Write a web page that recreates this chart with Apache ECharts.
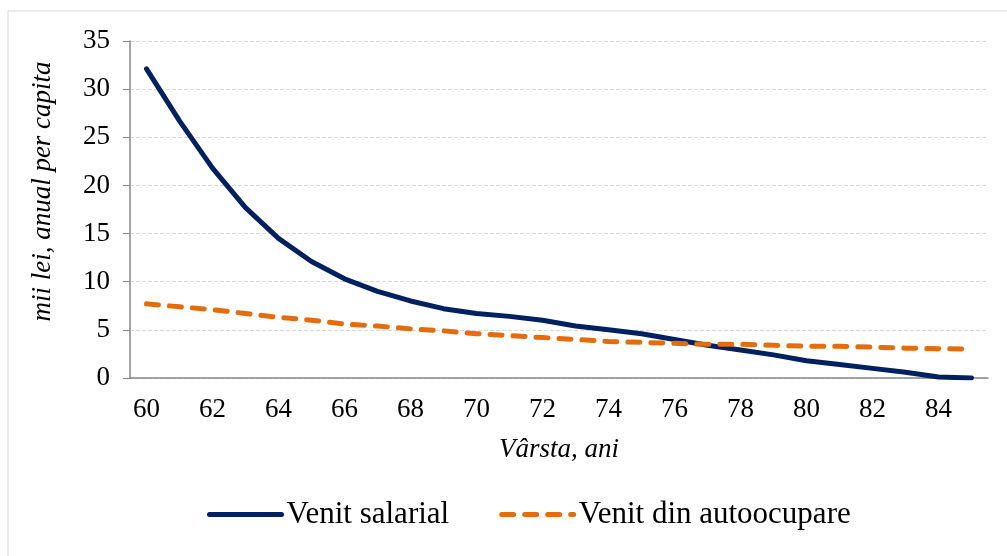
<!DOCTYPE html>
<html>
<head>
<meta charset="utf-8">
<script src="https://cdn.jsdelivr.net/npm/echarts@6/dist/echarts.min.js"></script>
<style>
  html, body { margin: 0; padding: 0; background: #fff; }
  #chart { width: 1007px; height: 556px; }
</style>
</head>
<body>
<div id="chart"></div>
<script>
// varsta, ani
const ages = ['60', '61', '62', '63', '64', '65', '66', '67', '68', '69', '70', '71', '72',
  '73', '74', '75', '76', '77', '78', '79', '80', '81', '82', '83', '84', '85'];
// mii lei, anual per capita
const venitSalarial = [32.1, 26.7, 21.8, 17.7, 14.5, 12.1, 10.3, 9.0, 8.0, 7.2, 6.7, 6.4, 6.0,
  5.4, 5.0, 4.6, 4.0, 3.4, 2.9, 2.4, 1.8, 1.4, 1.0, 0.6, 0.1, 0.0];
const venitAutoocupare = [7.7, 7.4, 7.1, 6.7, 6.3, 6.0, 5.6, 5.4, 5.1, 4.9, 4.6, 4.4, 4.2,
  4.0, 3.8, 3.7, 3.6, 3.5, 3.5, 3.4, 3.3, 3.3, 3.2, 3.1, 3.05, 3.0];
const yTicks = { min: 0, max: 35, step: 5 };

const font = '"Liberation Serif", "Times New Roman", serif';
const chart = echarts.init(document.getElementById('chart'));

chart.setOption({
  animation: false,
  textStyle: { fontFamily: font, color: '#000' },
  graphic: [{
    type: 'rect',
    shape: { x: 8, y: 11, width: 1100, height: 700 },
    style: { fill: 'none', stroke: '#d9d9d9', lineWidth: 1 }
  }],
  grid: { left: 130, right: 19, top: 41, bottom: 178 },
  legend: {
    left: 202,
    top: 494,
    itemWidth: 72,
    itemHeight: 10,
    itemGap: 50,
    itemStyle: { opacity: 0 },
    lineStyle: { width: 5, cap: 'round' },
    textStyle: { fontFamily: font, fontSize: 31, color: '#000' },
    data: ['Venit salarial', 'Venit din autoocupare']
  },
  xAxis: {
    type: 'category',
    data: ages,
    boundaryGap: true,
    name: 'Vârsta, ani',
    nameLocation: 'middle',
    nameGap: 58,
    nameTextStyle: { fontFamily: font, fontSize: 27, fontStyle: 'italic', color: '#000' },
    axisLine: { lineStyle: { color: '#868686', width: 1.5 } },
    axisTick: { interval: 1, length: 7, lineStyle: { color: '#868686' } },
    axisLabel: { interval: 1, margin: 18, fontSize: 27, color: '#000', fontFamily: font },
    splitLine: { show: false }
  },
  yAxis: {
    type: 'value',
    min: yTicks.min,
    max: yTicks.max,
    interval: yTicks.step,
    name: 'mii lei, anual per capita',
    nameLocation: 'middle',
    nameGap: 74,
    nameRotate: 90,
    nameTextStyle: { fontFamily: font, fontSize: 27, fontStyle: 'italic', color: '#000', padding: [0, 0, 0, 36] },
    axisLine: { show: true, lineStyle: { color: '#868686', width: 1.5 } },
    axisTick: { show: true, length: 7, lineStyle: { color: '#868686' } },
    axisLabel: { margin: 20, fontSize: 27, color: '#000', fontFamily: font },
    splitLine: { lineStyle: { color: '#d9d9d9', type: [4, 2], width: 1 } }
  },
  series: [
    {
      name: 'Venit salarial',
      type: 'line',
      data: venitSalarial,
      symbol: 'none',
      lineStyle: { color: '#002060', width: 5, cap: 'round', join: 'round' },
      itemStyle: { color: '#002060' }
    },
    {
      name: 'Venit din autoocupare',
      type: 'line',
      data: venitAutoocupare,
      symbol: 'none',
      lineStyle: { color: '#E46C0A', width: 5, type: [12, 11], cap: 'round', join: 'round' },
      itemStyle: { color: '#E46C0A' }
    }
  ]
});
</script>
</body>
</html>
